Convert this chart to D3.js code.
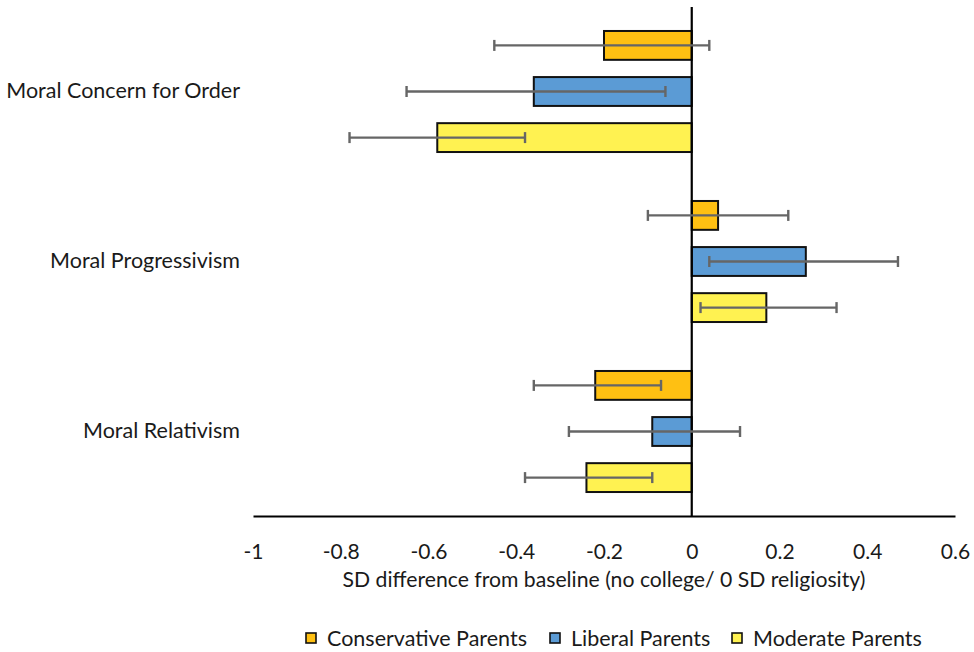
<!DOCTYPE html>
<html><head><meta charset="utf-8">
<script src="https://cdn.jsdelivr.net/npm/d3@7"></script>
<style>body{margin:0;background:#fff}svg{display:block}text{font-family:Lato,"Open Sans",sans-serif;fill:#1a1a1a}</style>
</head><body><div id="chart"></div>
<script>
const categories = ["Moral Concern for Order", "Moral Progressivism", "Moral Relativism"];
const seriesNames = ["Conservative Parents", "Liberal Parents", "Moderate Parents"];
const conservative = [-0.20, 0.06, -0.22];
const conservativeLow = [-0.45, -0.10, -0.36];
const conservativeHigh = [0.04, 0.22, -0.07];
const liberal = [-0.36, 0.26, -0.09];
const liberalLow = [-0.65, 0.04, -0.28];
const liberalHigh = [-0.06, 0.47, 0.11];
const moderate = [-0.58, 0.17, -0.24];
const moderateLow = [-0.78, 0.02, -0.38];
const moderateHigh = [-0.38, 0.33, -0.09];
const xTicks = [-1, -0.8, -0.6, -0.4, -0.2, 0, 0.2, 0.4, 0.6];
const xTitle = "SD difference from baseline (no college/ 0 SD religiosity)";
const colors = ["#FFC012", "#5B9BD5", "#FFF251"];

const values = [conservative, liberal, moderate];
const lows = [conservativeLow, liberalLow, moderateLow];
const highs = [conservativeHigh, liberalHigh, moderateHigh];

const W = 974, H = 652;
const svg = d3.select("#chart").append("svg").attr("width", W).attr("height", H);

const x = d3.scaleLinear().domain([-1, 0.6]).range([253, 955]);
const y0 = d3.scaleBand().domain(categories).range([6.5, 516.5]).paddingInner(0.288).paddingOuter(0.144);
const y1 = d3.scaleBand().domain(seriesNames).range([0, y0.bandwidth()]).paddingInner(0.374).paddingOuter(0);

const rows = [];
categories.forEach((c, i) => seriesNames.forEach((s, j) => rows.push({c, s, j, v: values[j][i], lo: lows[j][i], hi: highs[j][i]})));

// bars
svg.append("g").selectAll("rect").data(rows).join("rect")
  .attr("x", d => x(Math.min(0, d.v)))
  .attr("width", d => Math.abs(x(d.v) - x(0)))
  .attr("y", d => y0(d.c) + y1(d.s))
  .attr("height", y1.bandwidth())
  .attr("fill", d => colors[d.j])
  .attr("stroke", "#111").attr("stroke-width", 2);

// zero line
svg.append("line").attr("x1", x(0)).attr("x2", x(0)).attr("y1", 7).attr("y2", 516)
  .attr("stroke", "#000").attr("stroke-width", 2.2);

// error bars
const eb = svg.append("g").attr("stroke", "#666").attr("stroke-width", 2.4).attr("fill", "none");
rows.forEach(d => {
  const cy = y0(d.c) + y1(d.s) + y1.bandwidth() / 2;
  eb.append("line").attr("x1", x(d.lo)).attr("x2", x(d.hi)).attr("y1", cy).attr("y2", cy);
  [d.lo, d.hi].forEach(v => eb.append("line").attr("x1", x(v)).attr("x2", x(v)).attr("y1", cy - 5.5).attr("y2", cy + 5.5));
});

// x axis
const axis = d3.axisBottom(x).tickValues(xTicks).tickSize(0).tickPadding(0).tickFormat(d => String(d));
const gx = svg.append("g").attr("transform", "translate(0,516)").call(axis);
gx.select(".domain").attr("stroke", "#000").attr("stroke-width", 2);
gx.selectAll("text").attr("font-family", "Lato").attr("font-size", 21).attr("fill", "#1a1a1a").attr("dy", 0).attr("y", 43);

svg.append("text").attr("x", (x(-1) + x(0.6)) / 2).attr("y", 587).attr("text-anchor", "middle")
  .attr("font-size", 21.2).text(xTitle);

// category labels
svg.append("g").selectAll("text").data(categories).join("text")
  .attr("x", 240).attr("y", d => y0(d) + y0.bandwidth() / 2 + 6)
  .attr("text-anchor", "end").attr("font-size", 21.5).text(d => d);

// legend
const legendX = [306, 550, 732];
const lg = svg.append("g");
seriesNames.forEach((s, j) => {
  lg.append("rect").attr("x", legendX[j]).attr("y", 633).attr("width", 10).attr("height", 10)
    .attr("fill", colors[j]).attr("stroke", "#111").attr("stroke-width", 1.6);
  lg.append("text").attr("x", legendX[j] + 21).attr("y", 646).attr("font-size", 21.5).text(s);
});
</script></body></html>
